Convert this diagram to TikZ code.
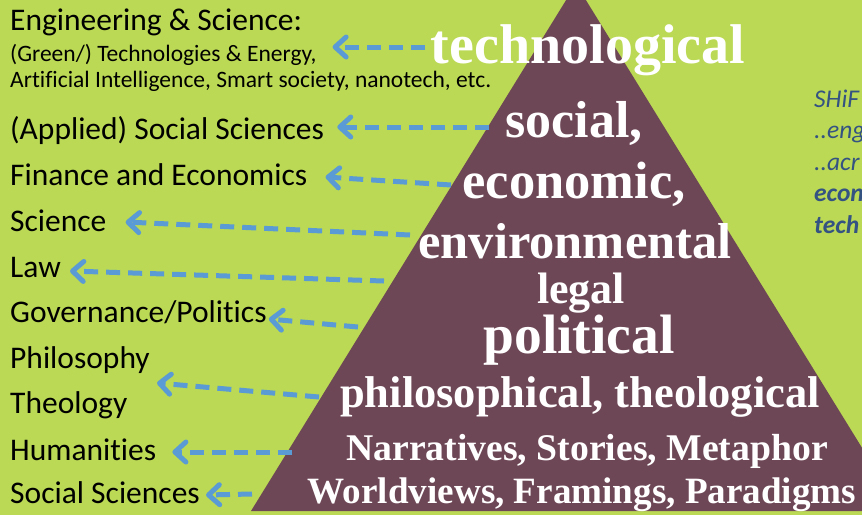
\documentclass[tikz,border=0pt]{standalone}
\usepackage{fontspec}
\setmainfont{Liberation Serif}
\newfontfamily\carlito[Ligatures={NoCommon,NoContextual}]{Carlito}
\usetikzlibrary{arrows.meta}
\definecolor{bggreen}{RGB}{187,217,84}
\definecolor{pyr}{RGB}{110,71,86}
\definecolor{arrblue}{RGB}{91,155,213}
\definecolor{noteblue}{RGB}{52,82,130}
\begin{document}
\begin{tikzpicture}[x=1pt,y=-1pt,
  lab/.style={anchor=base west, inner sep=0pt, text=black, font=\carlito\fontsize{31.5}{34}\selectfont},
  labsmall/.style={anchor=base west, inner sep=0pt, text=black, font=\carlito\fontsize{23.5}{26}\selectfont},
  tri/.style={anchor=base, inner sep=0pt, text=white, font=\bfseries\fontsize{#1}{#1}\selectfont},
  note/.style={anchor=base west, inner sep=0pt, text=noteblue, font=\carlito\itshape\fontsize{25.5}{28}\selectfont},
  notebf/.style={note, font=\carlito\bfseries\itshape\fontsize{25.5}{28}\selectfont},
  arr/.style={draw=arrblue, line width=5pt, dash pattern=on 14pt off 8pt,
    -{Straight Barb[length=11pt,width=20pt,round]}}]
\useasboundingbox (0,0) rectangle (862,515);
\clip (0,0) rectangle (862,515);
\fill[bggreen] (0,0) rectangle (862,515);
% pyramid
\fill[pyr] (576,-16) -- (251,511) -- (901,511) -- cycle;
% pyramid texts
\node[tri=56]   (tech)  at (588,63)  {technological};
\node[tri=52]   (socl)  at (574,137) {social,};
\node[tri=52.5] (econ)  at (574,198) {economic,};
\node[tri=50.5] (env)   at (575,258) {environmental};
\node[tri=44]   (legal) at (581,303) {legal};
\node[tri=55.5] (pol)   at (579,353) {political};
\node[tri=44.5] (philt) at (580,407) {philosophical, theological};
\node[tri=37.7] (narr)  at (587,460) {Narratives, Stories, Metaphor};
\node[tri=37.1] (world) at (582,503) {Worldviews, Framings, Paradigms};
% left labels
\node[lab]      (eng)   at (10,30)  {Engineering \& Science:};
\node[labsmall] (green) at (10,61)  {(Green/) Technologies \& Energy,};
\node[labsmall] (ai)    at (10,87)  {Artificial Intelligence, Smart society, nanotech, etc.};
\node[lab] (app)  at (10,139) {(Applied) Social Sciences};
\node[lab] (fin)  at (10,185) {Finance and Economics};
\node[lab] (sci)  at (10,231) {Science};
\node[lab] (law)  at (10,277) {Law};
\node[lab] (gov)  at (10,322) {Governance/Politics};
\node[lab] (phil) at (10,368) {Philosophy};
\node[lab] (theo) at (10,413) {Theology};
\node[lab] (hum)  at (10,460) {Humanities};
\node[lab] (soc)  at (10,503) {Social Sciences};
% right notes
\node[note]   (n1) at (814,107)   {SHiF};
\node[note]   (n2) at (814,138.5) {..eng};
\node[note]   (n3) at (814,170)   {..acr};
\node[notebf] (n4) at (814,201.5) {econ};
\node[notebf] (n5) at (814,233)   {tech};
% arrow start points on the pyramid side
\coordinate (s1) at (425,47);
\coordinate (s2) at (489,127);
\coordinate (s3) at (451,185);
\coordinate (s4) at (410,235);
\coordinate (s5) at (384,281);
\coordinate (s6) at (358,327);
\coordinate (s7) at (319,397);
\coordinate (s8) at (292,452);
\coordinate (s9) at (252,494);
\coordinate (p7) at (157,383);
% arrows
\draw[arr] (s1) -- ([xshift=16pt]green.east |- 0,47);
\draw[arr] (s2) -- ([xshift=13pt]app.east |- 0,127);
\draw[arr] (s3) -- ([xshift=18pt]fin.east |- 0,177);
\draw[arr] (s4) -- ([xshift=19pt]sci.east |- 0,222);
\draw[arr] (s5) -- ([xshift=9pt]law.east |- 0,271);
\draw[arr] (s6) -- ([xshift=2pt]gov.east |- 0,319);
\draw[arr] (s7) -- (p7);
\draw[arr] (s8) -- ([xshift=16pt]hum.east |- 0,452);
\draw[arr] (s9) -- ([xshift=6pt]soc.east |- 0,495);
\end{tikzpicture}
\end{document}
